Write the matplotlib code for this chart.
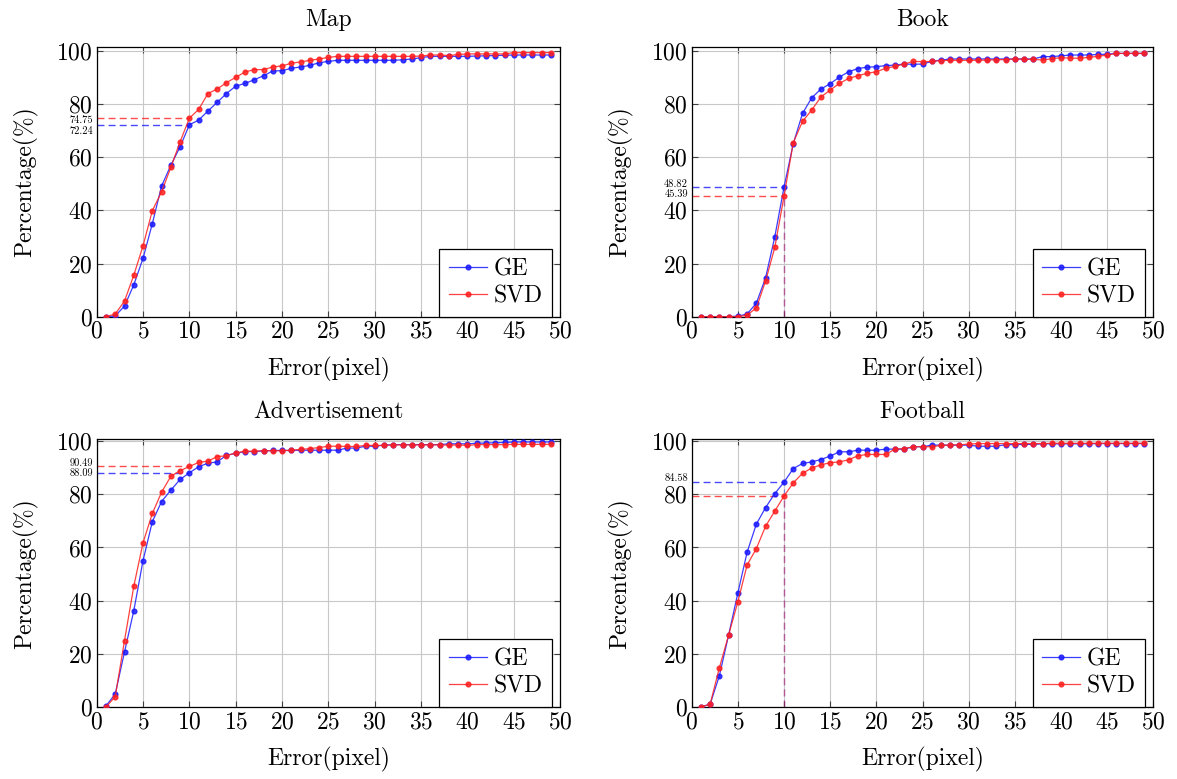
import numpy as np
import matplotlib
matplotlib.use("Agg")
import matplotlib.pyplot as plt

plt.rcParams['font.family'] = ['cmr10', 'DejaVu Serif']
plt.rcParams['mathtext.fontset'] = 'cm'
plt.rcParams['axes.formatter.use_mathtext'] = True

# error threshold in pixels, 1..49
err = np.arange(1, 50)

map_ge = [0, 0.3, 4, 12, 22, 35, 49.2, 57, 64, 72.24, 74, 77.4, 80.7, 84, 86.8, 87.8, 89.2, 90.7, 92.5, 92.6,
          93.5, 94, 94.6, 95.6, 96.1, 96.5, 96.5, 96.5, 96.5, 96.5, 96.5, 96.5, 96.7, 97, 97.5, 98, 98, 98, 98, 98,
          98.1, 98.2, 98.3, 98.4, 98.5, 98.5, 98.5, 98.5, 98.5]
map_svd = [0, 1, 5.9, 15.6, 26.7, 39.9, 47, 56.2, 65.9, 74.75, 78, 84, 85.7, 88.1, 90.1, 92.1, 93, 93, 94, 94.4,
           95.4, 95.9, 96.5, 97, 97.6, 98, 98, 98, 98, 98, 98, 98, 98, 98, 98.1, 98.5, 98.5, 98.3, 98.7, 98.9,
           98.9, 98.9, 98.9, 98.9, 99.4, 99.4, 99.4, 99.4, 99.4]

book_ge = [0, 0, 0, 0, 0.2, 1, 5.1, 14.6, 30.1, 48.82, 65.1, 76.5, 82.4, 85.7, 87.7, 90.2, 92.2, 93.4, 93.9, 94.1,
           94.5, 94.7, 95.1, 95, 95.1, 96.1, 96.6, 97, 97, 97, 97, 97, 97, 97, 97, 97, 97, 97.9, 97.9, 98.2,
           98.5, 98.5, 98.5, 98.7, 98.8, 99.1, 99.1, 99.1, 99.1]
book_svd = [0, 0, 0, 0, 0, 0.6, 3.3, 13.4, 26.1, 45.39, 65.5, 73.5, 77.8, 82.7, 85.3, 87.8, 89.7, 90.7, 91.6, 92.2,
            93.5, 94.2, 95.1, 96.1, 96, 96.1, 96.4, 96.5, 96.5, 96.5, 96.5, 96.6, 96.7, 96.8, 97, 96.9, 96.9, 96.6,
            97.1, 97.5, 97.3, 97.3, 97.6, 98, 98.5, 99.1, 99.1, 99.1, 99.1]

adv_ge = [0.4, 4.9, 20.7, 36.2, 55.1, 69.7, 77.3, 81.6, 85.6, 88.09, 90.4, 91.7, 92.2, 94.7, 95.4, 96.1, 96.1, 96.3,
          96.5, 96.5, 96.5, 96.6, 96.6, 96.6, 96.6, 96.6, 97.4, 97.4, 98.1, 98.1, 98.5, 98.7, 98.7, 98.7, 98.7, 98.7,
          98.7, 99, 99, 99, 99.2, 99.3, 99.4, 99.5, 99.7, 99.7, 99.7, 99.7, 99.7]
adv_svd = [0, 3.9, 25, 45.4, 61.8, 72.8, 80.8, 86.8, 88.9, 90.49, 92, 92.5, 94.2, 94.5, 95.6, 96.2, 96.2, 96.4,
           96.4, 96.4, 96.6, 96.9, 97.2, 97.6, 98.1, 98.1, 98, 98, 98.4, 98.4, 98.4, 98.6, 98.6, 98.6, 98.6, 98.6,
           98.6, 98.5, 98.6, 98.4, 98.7, 98.7, 98.7, 98.7, 98.8, 98.8, 98.8, 98.8, 98.8]

foot_ge = [0, 1.1, 11.8, 27.1, 42.9, 58.2, 68.8, 75, 80.3, 84.58, 89.7, 91.6, 92.2, 93.1, 94.4, 96, 96, 96.6, 96.6,
           96.6, 97, 97, 97, 97.9, 97.9, 98.5, 98.5, 98.5, 98.5, 98.5, 98.1, 98.1, 98.1, 98.7, 98.7, 98.8, 98.8, 99,
           99, 99, 99, 99, 99, 99.1, 99.1, 99.1, 99.1, 99.1, 99.1]
foot_svd = [0, 1.1, 14.8, 27.1, 39.6, 53.4, 59.6, 68, 73.7, 79.37, 84.3, 87.9, 89.9, 91.1, 91.9, 92.2, 93, 94.5, 95,
            95, 95, 97, 97.2, 97.9, 97.9, 97.9, 98.4, 98.6, 98.6, 98.9, 99.1, 99.1, 99.1, 99.1, 99.1, 99.1, 99.1, 99.1,
            99.2, 99.2, 99.2, 99.2, 99.2, 99.2, 99.2, 99.2, 99.2, 99.2, 99.2]

# panel: (title, GE, SVD, draw vertical marker at x=10, label SVD value, ymax)
panels = [
    ("Map", map_ge, map_svd, False, True, 101.4),
    ("Book", book_ge, book_svd, True, True, 101.4),
    ("Advertisement", adv_ge, adv_svd, False, True, 100.7),
    ("Football", foot_ge, foot_svd, True, False, 100.7),
]
# nudges (in data units) for the value labels (GE, SVD), keeps them clear of tick labels
label_nudge = [(-2.3, -0.9), (1.1, 0.7), (-0.2, 1.2), (1.4, 0)]

blue = (0.1, 0.1, 1.0)
red = (1.0, 0.12, 0.12)
FS = 17

fig = plt.figure(figsize=(11.77, 7.79), dpi=100)
W, H = 1177, 779
rects = [(96.7, 47.3, 463.5, 269.4), (691.7, 47.3, 461.7, 269.4),
         (96.7, 439.3, 463.5, 267.7), (691.7, 439.3, 461.7, 267.7)]

for (title, ge, svd, vline, svd_lab, ymax), (x0, y0, w, h), nudge in zip(panels, rects, label_nudge):
    ax = fig.add_axes([x0 / W, 1 - (y0 + h) / H, w / W, h / H])
    ax.plot(err, ge, color=blue, lw=0.9, marker='o', ms=3.4, alpha=0.85, label="GE", zorder=3)
    ax.plot(err, svd, color=red, lw=0.9, marker='o', ms=3.4, alpha=0.85, label="SVD", zorder=3)

    # dashed guides at 10 pixel error
    for vals, c, lab, dy in ((ge, blue, True, nudge[0]), (svd, red, svd_lab, nudge[1])):
        v = vals[9]
        ax.plot([0, 10], [v, v], color=c, lw=1.0, ls=(0, (5, 3)), alpha=0.8, zorder=2)
        if vline:
            ax.plot([10, 10], [0, v], color=c, lw=1.0, ls=(0, (5, 3)), alpha=0.4, zorder=2)
        if lab:
            ax.text(-0.4, v + dy, "%.2f" % v, ha='right', va='center', fontsize=7.5)

    ax.set_xlim(0, 50)
    ax.set_ylim(0, ymax)
    ax.set_xticks(range(0, 51, 5))
    ax.set_yticks(range(0, 101, 20))
    ax.grid(True, color='#c8c8c8', lw=0.8)
    ax.set_axisbelow(True)
    ax.tick_params(direction='in', top=True, right=True, labelsize=FS, pad=3,
                   length=4, width=0.8, color='#404040')
    for s in ax.spines.values():
        s.set_linewidth(0.9)
    ax.set_title(title, fontsize=FS, pad=15)
    ax.set_xlabel("Error(pixel)", fontsize=FS, labelpad=10)
    ax.set_ylabel("Percentage(%)", fontsize=FS, labelpad=13)
    leg = ax.legend(loc='lower right', bbox_to_anchor=(1 - 8 / w, 0), borderaxespad=0,
                    fontsize=FS, fancybox=False, framealpha=1, edgecolor='black',
                    handlelength=1.6, handletextpad=0.3, borderpad=0.4, labelspacing=0.2)
    leg.get_frame().set_linewidth(0.9)

fig.savefig("out.png", dpi=100)
